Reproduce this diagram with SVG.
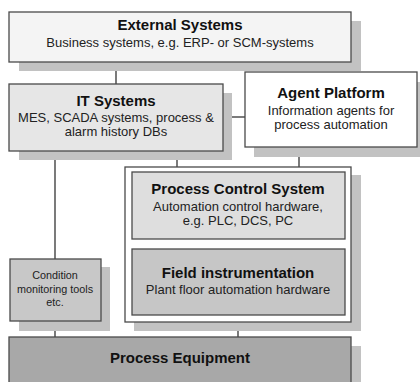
<svg xmlns="http://www.w3.org/2000/svg" width="420" height="382" viewBox="0 0 420 382">
  <style>
    .box { stroke: #4a4a4a; stroke-width: 1.3; }
    .shadow { fill: #c2c2c2; stroke: none; }
    .link { stroke: #333333; stroke-width: 1.3; fill: none; }
    text { font-family: "Liberation Sans", Arial, sans-serif; fill: #111111; text-anchor: middle; }
    .title { font-size: 15px; font-weight: bold; }
    .sub { font-size: 13px; fill: #222222; }
    .small { font-size: 10.8px; fill: #222222; }
  </style>
  <rect width="420" height="382" fill="#ffffff"/>

  <!-- connectors -->
  <g id="connectors">
    <line class="link" x1="116" y1="62" x2="116" y2="84"/>
    <line class="link" x1="223" y1="117" x2="245" y2="117"/>
    <line class="link" x1="55" y1="151" x2="55" y2="259"/>
    <line class="link" x1="177" y1="151" x2="177" y2="167"/>
    <line class="link" x1="299" y1="147" x2="299" y2="167"/>
    <line class="link" x1="55" y1="321" x2="55" y2="337"/>
    <line class="link" x1="238" y1="322" x2="238" y2="337"/>
  </g>

  <g id="external-systems">
    <rect class="shadow" x="19" y="21" width="342" height="50"/>
    <rect class="box" x="9" y="12" width="342" height="50" fill="#f4f4f4"/>
    <text class="title" x="180" y="30">External Systems</text>
    <text class="sub" x="180" y="47">Business systems, e.g. ERP- or SCM-systems</text>
  </g>

  <g id="it-systems">
    <rect class="shadow" x="19" y="93" width="213" height="67"/>
    <rect class="box" x="9" y="84" width="214" height="67" fill="#e6e6e6"/>
    <text class="title" x="116" y="106">IT Systems</text>
    <text class="sub" x="116" y="122">MES, SCADA systems, process &amp;</text>
    <text class="sub" x="116" y="136">alarm history DBs</text>
  </g>

  <g id="agent-platform">
    <rect class="shadow" x="254" y="82" width="166" height="75"/>
    <rect class="box" x="245" y="72" width="172" height="75" fill="#ffffff"/>
    <text class="title" x="331" y="98">Agent Platform</text>
    <text class="sub" x="331" y="115">Information agents for</text>
    <text class="sub" x="331" y="129">process automation</text>
  </g>

  <g id="automation-block">
    <rect class="shadow" x="134" y="175" width="227" height="156"/>
    <rect class="box" x="125" y="167" width="226" height="155" fill="#ffffff"/>
  </g>

  <g id="process-control-system">
    <rect class="box" x="132" y="172" width="213" height="67" fill="#dedede"/>
    <text class="title" x="238" y="194">Process Control System</text>
    <text class="sub" x="238" y="211">Automation control hardware,</text>
    <text class="sub" x="238" y="225">e.g. PLC, DCS, PC</text>
  </g>

  <g id="field-instrumentation">
    <rect class="box" x="132" y="249" width="213" height="66" fill="#c6c6c6"/>
    <text class="title" x="238" y="278">Field instrumentation</text>
    <text class="sub" x="238" y="294">Plant floor automation hardware</text>
  </g>

  <g id="condition-monitoring">
    <rect class="shadow" x="19" y="267" width="91" height="64"/>
    <rect class="box" x="10" y="259" width="91" height="62" fill="#c8c8c8"/>
    <text class="small" x="55" y="279">Condition</text>
    <text class="small" x="55" y="293">monitoring tools</text>
    <text class="small" x="55" y="306">etc.</text>
  </g>

  <g id="process-equipment">
    <rect class="shadow" x="19" y="346" width="342" height="50"/>
    <rect class="box" x="9" y="337" width="342" height="55" fill="#a8a8a8"/>
    <text class="title" x="180" y="363">Process Equipment</text>
  </g>
</svg>
